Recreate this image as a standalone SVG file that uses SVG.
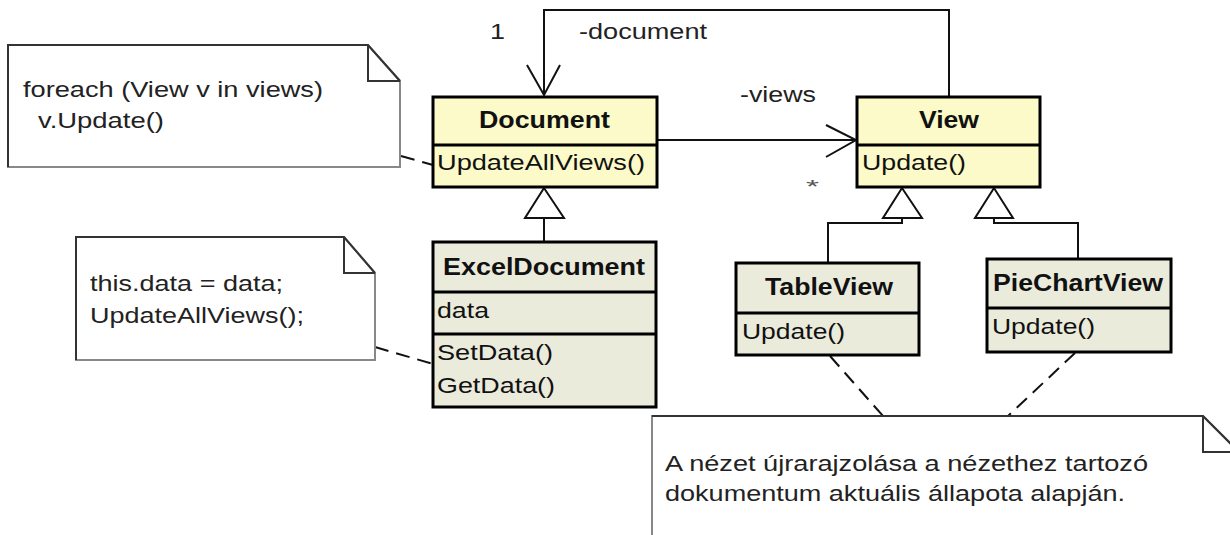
<svg xmlns="http://www.w3.org/2000/svg" width="1230" height="535" viewBox="0 0 1230 535">
  <style>
    text { font-family: "Liberation Sans", Arial, sans-serif; fill: #111; }
    .title { font-size: 24px; font-weight: bold; }
    .member { font-size: 22px; }
    .note-text { font-size: 22px; fill: #222; }
    .label { font-size: 22px; fill: #222; }
    .box { stroke: #000; stroke-width: 3; }
    .base { fill: #FCFAC8; }
    .derived { fill: #EBEBDC; }
    .sep { stroke: #000; stroke-width: 3; }
    .note { fill: #fff; stroke: #888; stroke-width: 2; }
    .note-top { stroke: #333; stroke-width: 2; fill: none; }
    .assoc { stroke: #111; stroke-width: 2; fill: none; }
    .gen { stroke: #111; stroke-width: 2; fill: #fff; }
    .anchor { stroke: #111; stroke-width: 2; fill: none; stroke-dasharray: 14 8; }
  </style>

  <rect width="1230" height="535" fill="#fff"/>

  <!-- connectors -->
  <g id="connectors">
    <!-- View -> Document (-document, 1) -->
    <path class="assoc" d="M949,97 V10 H544 V95"/>
    <polyline class="assoc" points="527,65 544,95 560,65"/>
    <!-- Document -> View (-views, *) -->
    <path class="assoc" d="M657,140 H856"/>
    <polyline class="assoc" points="826,125 856,140 826,157"/>
    <!-- generalizations -->
    <path class="assoc" d="M544,218 V242"/>
    <polygon class="gen" points="544,188 525,218 564,218"/>
    <path class="assoc" d="M902,218 V223 H828 V263"/>
    <polygon class="gen" points="902,188 883,218 922,218"/>
    <path class="assoc" d="M994,218 V223 H1078 V259"/>
    <polygon class="gen" points="994,188 975,218 1013,218"/>
    <!-- note anchors -->
    <path class="anchor" d="M401,156 L433,165"/>
    <path class="anchor" d="M375,347 L433,364"/>
    <path class="anchor" d="M830,356 L883,416"/>
    <path class="anchor" d="M1075,353 L1008,416"/>
    <!-- role and multiplicity labels -->
    <text class="label" x="490" y="39" textLength="15" lengthAdjust="spacingAndGlyphs">1</text>
    <text class="label" x="579" y="39" textLength="128" lengthAdjust="spacingAndGlyphs">-document</text>
    <text class="label" x="740" y="102" textLength="76" lengthAdjust="spacingAndGlyphs">-views</text>
    <text class="label" x="806" y="193" textLength="13" lengthAdjust="spacingAndGlyphs" style="font-size:18px;fill:#555">*</text>
  </g>

  <!-- notes -->
  <g id="note-foreach">
    <path class="note" d="M8,45 H368 L400,81 V167 H8 Z"/>
    <path class="note-top" d="M8,167 V45 H368 L400,81 M368,45 V81 H400"/>
    <text class="note-text" x="23" y="97" textLength="300" lengthAdjust="spacingAndGlyphs">foreach (View v in views)</text>
    <text class="note-text" x="38" y="128" textLength="126" lengthAdjust="spacingAndGlyphs">v.Update()</text>
  </g>

  <g id="note-setdata">
    <path class="note" d="M76,237 H344 L375,273 V360 H76 Z"/>
    <path class="note-top" d="M76,360 V237 H344 L375,273 M344,237 V273 H375"/>
    <text class="note-text" x="90" y="291" textLength="193" lengthAdjust="spacingAndGlyphs">this.data = data;</text>
    <text class="note-text" x="90" y="323" textLength="214" lengthAdjust="spacingAndGlyphs">UpdateAllViews();</text>
  </g>

  <g id="note-redraw">
    <path class="note" d="M652,540 V416 H1203 L1239,452 V540 Z"/>
    <path class="note-top" d="M652,416 H1203 L1239,452 M1203,416 V452 H1239"/>
    <text class="note-text" x="665" y="471" textLength="483" lengthAdjust="spacingAndGlyphs">A nézet újrarajzolása a nézethez tartozó</text>
    <text class="note-text" x="665" y="501" textLength="460" lengthAdjust="spacingAndGlyphs">dokumentum aktuális állapota alapján.</text>
  </g>

  <!-- classes -->
  <g id="class-document">
    <rect class="box base" x="433" y="97" width="224" height="90"/>
    <line class="sep" x1="433" y1="145" x2="657" y2="145"/>
    <text class="title" x="479" y="128" textLength="131" lengthAdjust="spacingAndGlyphs">Document</text>
    <text class="member" x="437" y="170" textLength="208" lengthAdjust="spacingAndGlyphs">UpdateAllViews()</text>
  </g>

  <g id="class-view">
    <rect class="box base" x="857" y="97" width="183" height="90"/>
    <line class="sep" x1="857" y1="145" x2="1040" y2="145"/>
    <text class="title" x="919" y="128" textLength="60" lengthAdjust="spacingAndGlyphs">View</text>
    <text class="member" x="862" y="170" textLength="104" lengthAdjust="spacingAndGlyphs">Update()</text>
  </g>

  <g id="class-exceldocument">
    <rect class="box derived" x="433" y="242" width="223" height="165"/>
    <line class="sep" x1="433" y1="292" x2="656" y2="292"/>
    <line class="sep" x1="433" y1="334" x2="656" y2="334"/>
    <text class="title" x="443" y="275" textLength="202" lengthAdjust="spacingAndGlyphs">ExcelDocument</text>
    <text class="member" x="437" y="318" textLength="52" lengthAdjust="spacingAndGlyphs">data</text>
    <text class="member" x="437" y="360" textLength="116" lengthAdjust="spacingAndGlyphs">SetData()</text>
    <text class="member" x="437" y="393" textLength="118" lengthAdjust="spacingAndGlyphs">GetData()</text>
  </g>

  <g id="class-tableview">
    <rect class="box derived" x="736" y="263" width="183" height="92"/>
    <line class="sep" x1="736" y1="313" x2="919" y2="313"/>
    <text class="title" x="765" y="295" textLength="128" lengthAdjust="spacingAndGlyphs">TableView</text>
    <text class="member" x="742" y="339" textLength="103" lengthAdjust="spacingAndGlyphs">Update()</text>
  </g>

  <g id="class-piechartview">
    <rect class="box derived" x="987" y="259" width="184" height="93"/>
    <line class="sep" x1="987" y1="308" x2="1171" y2="308"/>
    <text class="title" x="993" y="291" textLength="170" lengthAdjust="spacingAndGlyphs">PieChartView</text>
    <text class="member" x="992" y="334" textLength="103" lengthAdjust="spacingAndGlyphs">Update()</text>
  </g>
</svg>
